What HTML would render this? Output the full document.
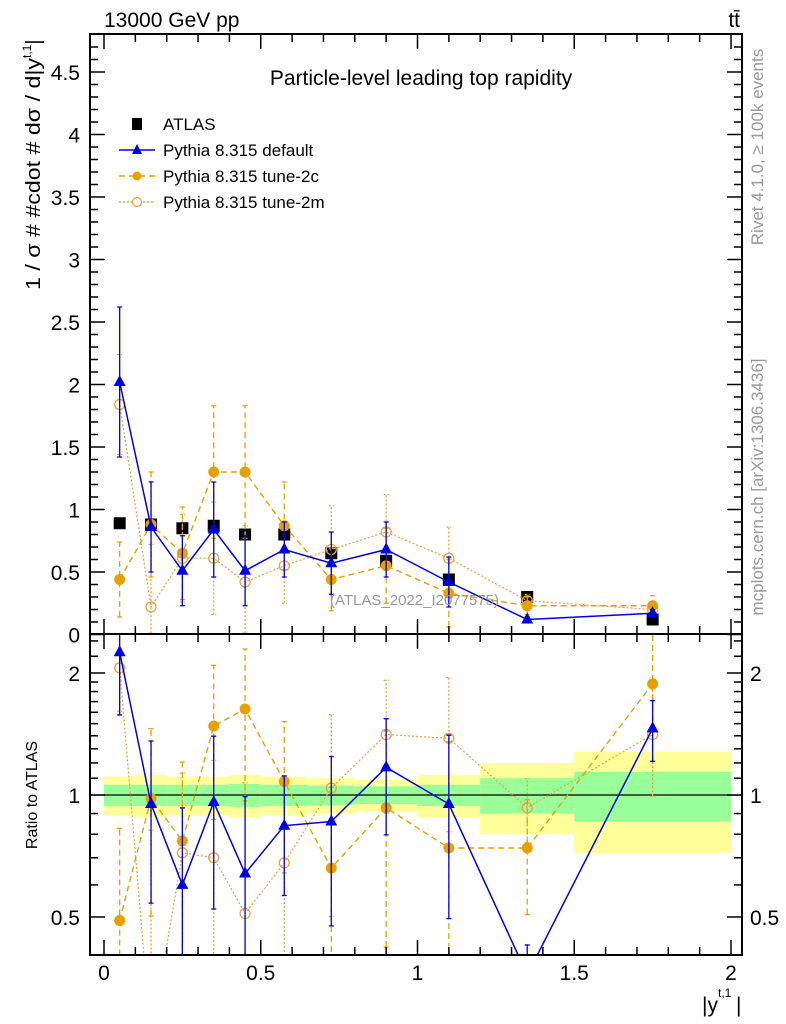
<!DOCTYPE html>
<html><head><meta charset="utf-8"><style>
html,body{margin:0;padding:0;background:#fff;width:786px;height:1024px;overflow:hidden;}
svg{display:block;font-family:"Liberation Sans",sans-serif;}
</style></head><body>
<svg id="c" width="786" height="1024" viewBox="0 0 786 1024"></svg>
<script>
const edges=[0,0.1,0.2,0.3,0.4,0.5,0.65,0.8,1.0,1.2,1.5,2.0];
const centers=[0.05,0.15,0.25,0.35,0.45,0.575,0.725,0.9,1.1,1.35,1.75];
const atlas=[0.89,0.88,0.85,0.87,0.80,0.80,0.65,0.59,0.44,0.30,0.12];
const defVals=[2.02,0.86,0.51,0.84,0.51,0.68,0.57,0.68,0.42,0.12,0.17];
const defErr=[0.6,0.36,0.28,0.38,0.28,0.22,0.25,0.22,0.2,0.02,0.03];
const c2Vals=[0.44,0.88,0.65,1.30,1.30,0.87,0.44,0.55,0.33,0.23,0.23];
const c2Err=[0.3,0.42,0.37,0.53,0.53,0.35,0.25,0.3,0.27,0.07,0.08];
const m2Vals=[1.84,0.22,0.61,0.61,0.42,0.55,0.68,0.82,0.61,0.27,0.20];
const m2Err=[0.4,0.5,0.35,0.45,0.45,0.3,0.35,0.3,0.25,0.05,0.05];
const defRatio=[2.25,0.95,0.6,0.96,0.64,0.84,0.86,1.17,0.95,0.36,1.46];
const c2Ratio=[0.49,0.98,0.77,1.48,1.63,1.08,0.66,0.93,0.74,0.74,1.88];
const m2Ratio=[2.06,0.25,0.72,0.70,0.51,0.68,1.04,1.41,1.38,0.93,1.41];
const greenBand=[0.06,0.06,0.06,0.06,0.065,0.06,0.055,0.05,0.06,0.1,0.14];
const yellowBand=[0.11,0.12,0.11,0.11,0.12,0.11,0.1,0.09,0.12,0.2,0.28];
const mainTicks=[0,0.5,1,1.5,2,2.5,3,3.5,4,4.5];
const ratioTicks=[0.5,1,2];
const xTicks=[0,0.5,1,1.5,2];

const NS="http://www.w3.org/2000/svg";
const svg=document.getElementById('c');
const L=90,R=742,T=34,MID=634,B=955;
const X=v=>104+v*313.5;
const Ym=v=>634.5-v*125;
const Yr=v=>795-122*Math.log2(v);
function el(tag,a,parent){const e=document.createElementNS(NS,tag);for(const k in a)e.setAttribute(k,a[k]);(parent||svg).appendChild(e);return e;}
function txt(s,a,parent){const e=el('text',a,parent);e.textContent=s;return e;}

const defs=el('defs',{});
const cp1=el('clipPath',{id:'cm'},defs);el('rect',{x:L,y:T,width:R-L,height:MID-T},cp1);
const cp2=el('clipPath',{id:'cr'},defs);el('rect',{x:L,y:MID,width:R-L,height:B-MID},cp2);

const gb=el('g',{'clip-path':'url(#cr)'});

for(let i=0;i<centers.length;i++){
  const x0=X(edges[i]),x1=X(edges[i+1]);
  const y=el('rect',{x:x0,y:Yr(1+yellowBand[i]),width:x1-x0,height:Yr(1-yellowBand[i])-Yr(1+yellowBand[i]),fill:'#ffff99'},gb);
  
  const g=el('rect',{x:x0,y:Yr(1+greenBand[i]),width:x1-x0,height:Yr(1-greenBand[i])-Yr(1+greenBand[i]),fill:'#99ff99'},gb);
  
}
el('line',{x1:L,x2:R,y1:Yr(1),y2:Yr(1),stroke:'#000','stroke-width':1.3});

function series(name,vals,errs,Y,clip,color,dash,marker,width){
  const g=el('g',{'clip-path':'url(#'+clip+')'});
  
  for(let i=0;i<vals.length;i++){
    const x=X(centers[i]);
    const e=el('path',{d:`M${x} ${Y(Math.max(vals[i]-errs[i],0.01))}V${Y(vals[i]+errs[i])}M${x-2.5} ${Y(Math.max(vals[i]-errs[i],0.01))}h5M${x-2.5} ${Y(vals[i]+errs[i])}h5`,stroke:color,'stroke-width':1.3,fill:'none','stroke-dasharray':dash},g);
    
  }
  const pts=vals.map((v,i)=>X(centers[i])+','+Y(v)).join(' ');
  const pl=el('polyline',{points:pts,fill:'none',stroke:color,'stroke-width':width,'stroke-dasharray':dash},g);
  
  for(let i=0;i<vals.length;i++){
    const x=X(centers[i]),y=Y(vals[i]);let m;
    if(marker==='tri')m=el('path',{d:`M${x} ${y-7}L${x+6} ${y+4}L${x-6} ${y+4}Z`,fill:color},g);
    else if(marker==='dot')m=el('circle',{cx:x,cy:y,r:5.5,fill:color},g);
    else m=el('circle',{cx:x,cy:y,r:5,fill:'none',stroke:color,'stroke-width':1.3},g);
    
  }
}
const ga=el('g',{'clip-path':'url(#cm)'});

for(let i=0;i<atlas.length;i++){
  const s=el('rect',{x:X(centers[i])-6,y:Ym(atlas[i])-6,width:12,height:12,fill:'#000'},ga);
  
}
series('tune-2m-main',m2Vals,m2Err,Ym,'cm','#e8a040','2,2','open',1.2);
series('tune-2c-main',c2Vals,c2Err,Ym,'cm','#e8a000','6,4','dot',1.4);
series('default-main',defVals,defErr,Ym,'cm','#0000e0','','tri',1.5);
series('tune-2m-ratio',m2Ratio,m2Err.map((e,i)=>e/atlas[i]),Yr,'cr','#e8a040','2,2','open',1.2);
series('tune-2c-ratio',c2Ratio,c2Err.map((e,i)=>e/atlas[i]),Yr,'cr','#e8a000','6,4','dot',1.4);
series('default-ratio',defRatio,defErr.map((e,i)=>e/atlas[i]),Yr,'cr','#0000e0','','tri',1.5);

el('rect',{x:L,y:T,width:R-L,height:MID-T,fill:'none',stroke:'#000','stroke-width':2});
el('rect',{x:L,y:MID,width:R-L,height:B-MID,fill:'none',stroke:'#000','stroke-width':2});
for(let v=0;v<=2.001;v+=0.1){
  const major=Math.abs(v*2-Math.round(v*2))<1e-6, x=X(v), len=major?15:8;
  for(const yb of [MID,B]){el('line',{x1:x,x2:x,y1:yb,y2:yb-len,stroke:'#000','stroke-width':1.5});}
  el('line',{x1:x,x2:x,y1:T,y2:T+len,stroke:'#000','stroke-width':1.5});
  el('line',{x1:x,x2:x,y1:MID,y2:MID+len,stroke:'#000','stroke-width':1.5});
}
xTicks.forEach(v=>{const t=txt(String(v),{x:X(v),y:980,'font-size':21,'text-anchor':'middle'});});
for(let i=0;i<=47;i++){const v=i/10,major=i%5===0,y=Ym(v),len=major?15:8;
  el('line',{x1:L,x2:L+len,y1:y,y2:y,stroke:'#000','stroke-width':1.5});
  el('line',{x1:R,x2:R-len,y1:y,y2:y,stroke:'#000','stroke-width':1.5});}
mainTicks.forEach(v=>{const t=txt(String(v),{x:80,y:Ym(v)+8,'font-size':21,'text-anchor':'end'});});
[0.4,0.5,0.6,0.7,0.8,0.9,1,1.1,1.2,1.3,1.4,1.5,1.6,1.7,1.8,1.9,2,2.2,2.4].forEach(v=>{
  const y=Yr(v);if(y<MID||y>B)return;const major=ratioTicks.includes(v),len=major?15:8;
  el('line',{x1:L,x2:L+len,y1:y,y2:y,stroke:'#000','stroke-width':1.5});
  el('line',{x1:R,x2:R-len,y1:y,y2:y,stroke:'#000','stroke-width':1.5});});
ratioTicks.forEach(v=>{
  const t=txt(String(v),{x:80,y:Yr(v)+8,'font-size':21,'text-anchor':'end'});
  const t2=txt(String(v),{x:750,y:Yr(v)+8,'font-size':21});});
let t;
t=txt('13000 GeV pp',{x:104,y:27,'font-size':21});
t=txt('tt̄',{x:740,y:27,'font-size':21,'text-anchor':'end'});
t=txt('Particle-level leading top rapidity',{x:421,y:85,'font-size':21,'text-anchor':'middle'});
t=txt('(ATLAS_2022_I2077575)',{x:330,y:605,'font-size':15,fill:'#999'});
t=el('text',{transform:'translate(40,290) rotate(-90)','font-size':20});

const ts1=el('tspan',{textLength:232,lengthAdjust:'spacingAndGlyphs'},t);ts1.textContent='1 / σ # #cdot # dσ / d|y';
const ts2=el('tspan',{dy:-9,'font-size':12},t);ts2.textContent='t,1';
const ts3=el('tspan',{dy:9},t);ts3.textContent='|';
t=txt('Ratio to ATLAS',{transform:'translate(37,795) rotate(-90)','font-size':16,'text-anchor':'middle'});
t=txt('|y',{x:718,y:1012,'font-size':21,'text-anchor':'end'});
txt('t,1',{x:718,y:997,'font-size':12});
txt('|',{x:736,y:1012,'font-size':21});
t=txt('Rivet 4.1.0, ≥ 100k events',{transform:'translate(763,147) rotate(-90)','font-size':17,fill:'#999','text-anchor':'middle'});
t=txt('mcplots.cern.ch [arXiv:1306.3436]',{transform:'translate(763,487) rotate(-90)','font-size':17,fill:'#999','text-anchor':'middle'});
const lg=el('g',{});
const entries=[['ATLAS','#000','','sq'],['Pythia 8.315 default','#0000e0','','tri'],['Pythia 8.315 tune-2c','#e8a000','6,4','dot'],['Pythia 8.315 tune-2m','#e8a040','2,2','open']];
entries.forEach((e,i)=>{
  const y=124+i*26,g=el('g',{},lg);
  
  const cx=137;
  if(e[3]==='sq')el('rect',{x:cx-5,y:y-6,width:10,height:12,fill:'#000'},g);
  else{el('line',{x1:119,x2:155,y1:y,y2:y,stroke:e[1],'stroke-width':1.5,'stroke-dasharray':e[2]},g);
    if(e[3]==='tri')el('path',{d:`M${cx} ${y-6}L${cx+5} ${y+4}L${cx-5} ${y+4}Z`,fill:e[1]},g);
    else if(e[3]==='dot')el('circle',{cx:cx,cy:y,r:4.5,fill:e[1]},g);
    else el('circle',{cx:cx,cy:y,r:4.5,fill:'#fff',stroke:e[1],'stroke-width':1.2},g);}
  txt(e[0],{x:163,y:y+6,'font-size':17},g);
});
</script>
</body></html>
